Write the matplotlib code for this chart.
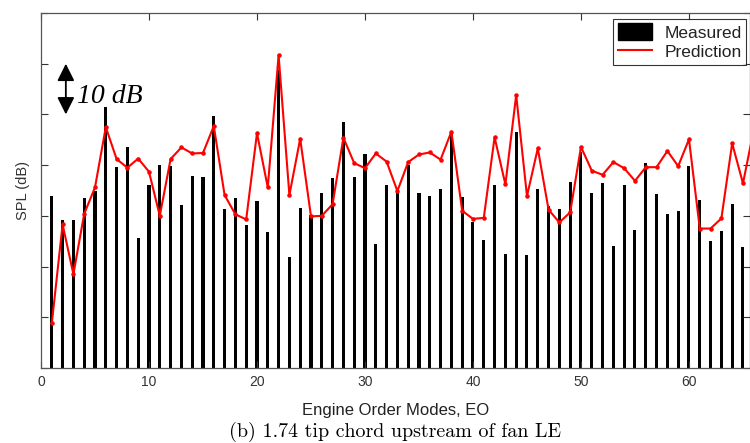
import numpy as np
import matplotlib.pyplot as plt
from matplotlib.patches import Patch
from matplotlib.lines import Line2D

# engine orders and levels (dB, arbitrary reference)
eo = list(range(1, 66))
measured = [34.0, 29.1, 29.1, 33.5, 35.0, 51.5, 39.6, 43.5, 25.7, 36.1,
            40.1, 39.8, 32.1, 37.8, 37.6, 49.6, 31.4, 33.5, 28.2, 32.9,
            26.8, 58.8, 21.8, 31.6, 30.1, 34.6, 37.5, 48.5, 37.6, 42.2,
            24.4, 36.1, 34.8, 40.0, 34.6, 33.9, 35.2, 46.4, 33.7, 28.7,
            25.2, 36.1, 22.4, 46.5, 22.2, 35.2, 32.0, 31.4, 36.7, 42.5,
            34.6, 36.5, 24.0, 36.1, 27.2, 40.4, 34.4, 30.4, 31.0, 39.9,
            33.1, 25.0, 27.0, 32.3, 23.8]

eo_pred = list(range(1, 67))
prediction = [8.8, 28.3, 18.5, 30.4, 35.6, 47.5, 41.2, 39.5, 41.3, 38.7,
              30.0, 41.2, 43.5, 42.3, 42.4, 47.7, 34.1, 30.3, 29.3, 46.3,
              35.6, 61.7, 34.1, 45.2, 29.9, 30.0, 32.3, 45.4, 40.4, 39.4,
              42.3, 40.7, 34.9, 40.6, 42.1, 42.5, 41.1, 46.6, 31.0, 29.4,
              29.6, 45.5, 36.2, 53.8, 33.9, 43.3, 31.2, 28.7, 30.7, 43.6,
              38.9, 38.1, 40.6, 39.4, 36.9, 39.6, 39.6, 42.8, 39.8, 45.1,
              27.5, 27.5, 29.5, 44.3, 36.4, 47.0]

x_ticks = [0, 10, 20, 30, 40, 50, 60]

plt.rcParams['font.family'] = ['Liberation Sans', 'DejaVu Sans']

fig = plt.figure(figsize=(7.5, 4.43), dpi=100)
ax = fig.add_axes([41/750, 75/443, 709/750, 355/443])

ax.bar(eo, measured, width=0.28, color='black')
ax.plot(eo_pred, prediction, '-', color='red', lw=1.5,
        marker='.', markersize=4.5)

ax.set_xlim(0, 65.65)
ax.set_ylim(0, 70)
ax.set_xticks(x_ticks)
ax.set_yticks(np.arange(0, 71, 10))
ax.set_yticklabels([])
ax.tick_params(direction='in', top=True, right=True, length=5,
               width=0.8, colors='#333333', labelsize=10, pad=5)
for s in ax.spines.values():
    s.set_color('#555555')
    s.set_linewidth(0.9)

ax.set_xlabel('Engine Order Modes, EO', fontsize=12, color='#222222', labelpad=10)
ax.set_ylabel('SPL (dB)', fontsize=10.5, color='#333333', labelpad=3)

# 10 dB scale marker
ax.annotate('', xy=(2.3, 60), xytext=(2.3, 50),
            arrowprops=dict(arrowstyle='<|-|>', color='black', lw=1.3,
                            mutation_scale=26, shrinkA=0, shrinkB=0))
ax.text(3.3, 53.6, '10 dB', fontsize=20, style='italic',
        family='Liberation Serif', va='center', ha='left')

handles = [Patch(facecolor='black', edgecolor='black'),
           Line2D([], [], color='red', lw=1.5)]
leg = ax.legend(handles, ['Measured', 'Prediction'],
                loc='upper left', bbox_to_anchor=(0.807, 0.983),
                fontsize=12.5, frameon=True, fancybox=False,
                handlelength=2.0, handleheight=1.1, borderpad=0.25,
                labelspacing=0.15, handletextpad=0.7, borderaxespad=0)
leg.get_frame().set_edgecolor('black')
leg.get_frame().set_linewidth(0.8)
for t in leg.get_texts():
    t.set_color('#222222')

fig.text(395/750, 1 - 432/443, '(b) 1.74 tip chord upstream of fan LE',
         ha='center', va='center', fontsize=14.4, family='cmr10')

fig.savefig('out.png', dpi=100)
